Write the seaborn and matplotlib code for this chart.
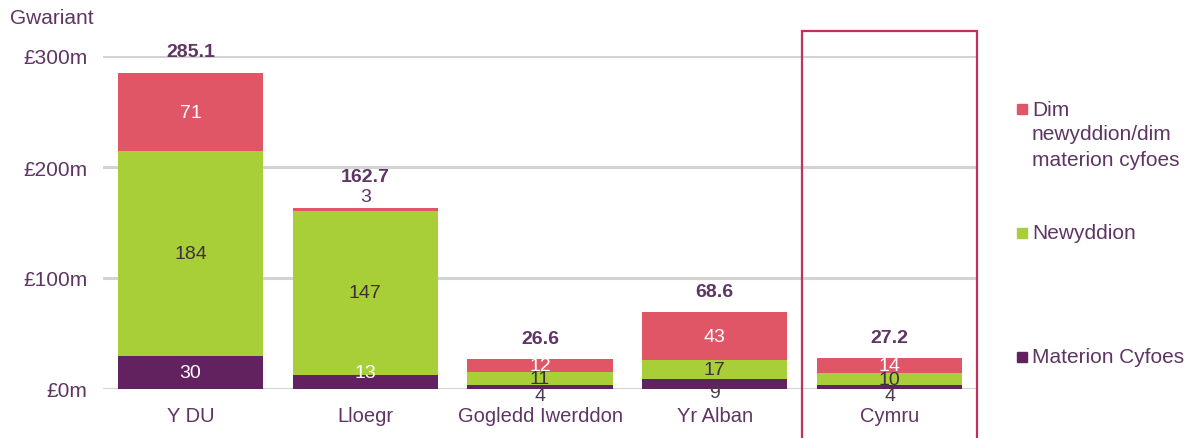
"""
Gwariant ar newyddion / materion cyfoes - siart bar wedi'i bentyrru
"""
import numpy as np
import pandas as pd
import matplotlib
matplotlib.use('Agg')
import matplotlib.pyplot as plt
import matplotlib.transforms as mtransforms
from matplotlib.patches import Rectangle
import seaborn as sns

# data
categories = ['Y DU', 'Lloegr', 'Gogledd Iwerddon', 'Yr Alban', 'Cymru']
materion_cyfoes = [30, 13, 4, 9, 4]
newyddion = [184, 147, 11, 17, 10]
dim_newyddion = [71, 3, 12, 43, 14]
totals = [285.1, 162.7, 26.6, 68.6, 27.2]
series_names = ['Materion Cyfoes', 'Newyddion', 'Dim\nnewyddion/dim\nmaterion cyfoes']
yticks = [0, 100, 200, 300]
ytick_labels = ['£0m', '£100m', '£200m', '£300m']
highlight = 'Cymru'

PURPLE = '#62215f'
GREEN = '#a9cf38'
RED = '#e15667'
TEXT = '#5e3563'
GRID = '#d3d3d3'
BOX = '#c2305a'

sns.set_theme(style='white')
plt.rcParams['font.family'] = ['Liberation Sans', 'DejaVu Sans']

df = pd.DataFrame({
    'cat': categories,
    'purple': materion_cyfoes,
    'green': newyddion,
    'red': dim_newyddion,
})
df['g_top'] = df['purple'] + df['green']
df['r_top'] = df['g_top'] + df['red']

W, H = 1192, 439
fig = plt.figure(figsize=(W / 100, H / 100), dpi=100)
ax = fig.add_axes([103 / W, 1 - 390 / H, 874 / W, 333 / H])

# stacked bars drawn from the top layer down
bw = 0.83
sns.barplot(data=df, x='cat', y='r_top', color=RED, saturation=1, width=bw, linewidth=0, ax=ax)
sns.barplot(data=df, x='cat', y='g_top', color=GREEN, saturation=1, width=bw, linewidth=0, ax=ax)
sns.barplot(data=df, x='cat', y='purple', color=PURPLE, saturation=1, width=bw, linewidth=0, ax=ax)

ax.set_xlim(-0.5, len(categories) - 0.5)
ax.set_ylim(0, 300)
ax.set_yticks(yticks)
ax.set_yticklabels(ytick_labels)
ax.set_xlabel('')
ax.set_ylabel('')
for s in ax.spines.values():
    s.set_visible(False)
ax.yaxis.grid(True, color=GRID, linewidth=2.2)
ax.xaxis.grid(False)
ax.set_axisbelow(True)
ax.set_xticks(np.arange(-0.5, len(categories)), minor=True)
ax.tick_params(axis='y', length=0, pad=11, labelsize=15, labelcolor=TEXT)
ax.tick_params(axis='x', which='major', length=0, pad=12, labelsize=14.5, labelcolor=TEXT)
ax.tick_params(axis='x', which='minor', length=5, width=2, color=GRID, direction='out')

# segment labels
for i, row in df.iterrows():
    segs = [
        (0, row['purple'], 'white', 'bottom'),
        (row['purple'], row['g_top'], '#3f2f3d', 'mid'),
        (row['g_top'], row['r_top'], 'white', 'top'),
    ]
    for lo, hi, col, pos in segs:
        h = hi - lo
        val = int(round(h))
        mid = (lo + hi) / 2
        if pos == 'top' and h < 6:
            ax.annotate(str(val), (i, hi), xytext=(0, 8), textcoords='offset points',
                        ha='center', va='center', fontsize=14, color=TEXT)
        elif pos == 'bottom' and h < 10:
            ax.annotate(str(val), (i, mid), xytext=(0, -6), textcoords='offset points',
                        ha='center', va='center', fontsize=14, color='#4a3a4a')
        else:
            y = max(mid, 15) if pos == 'bottom' else mid
            ax.text(i, y, str(val), ha='center', va='center', fontsize=14, color=col)
    extra = 8 if row['red'] < 6 else 0
    ax.annotate(f'{totals[i]:.1f}', (i, row['r_top']), xytext=(0, 15 + extra),
                textcoords='offset points', ha='center', va='center',
                fontsize=14, fontweight='bold', color=TEXT)

# box round the highlighted category
k = categories.index(highlight)
trans = mtransforms.blended_transform_factory(ax.transData, fig.transFigure)
fig.add_artist(Rectangle((k - 0.5, -0.05), 1.0, 1.05 - 32 / H, transform=trans,
                         fill=False, edgecolor=BOX, linewidth=1.6, clip_on=False))

fig.text(10 / W, 1 - 18 / H, 'Gwariant', ha='left', va='center', fontsize=15, color=TEXT)

# legend on the right
legend_rows = [(RED, series_names[2], 110), (GREEN, series_names[1], 234), (PURPLE, series_names[0], 358)]
for col, name, yc in legend_rows:
    fig.add_artist(Rectangle((1017 / W, 1 - (yc + 5) / H), 10 / W, 10 / H,
                             transform=fig.transFigure, color=col))
    for j, line in enumerate(name.split('\n')):
        fig.text(1032 / W, 1 - (yc + 25 * j) / H, line, ha='left', va='center',
                 fontsize=15, color=TEXT)

fig.savefig('out.png', dpi=100)
plt.close(fig)
